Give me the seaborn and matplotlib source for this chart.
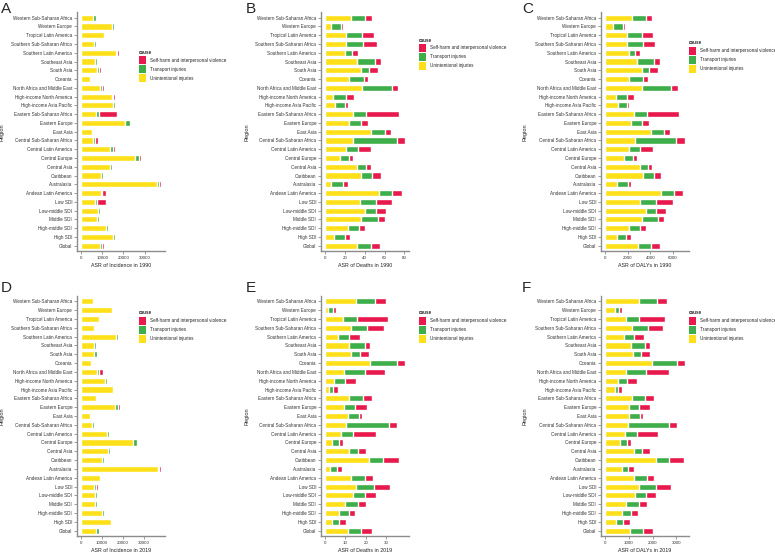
import numpy as np
import pandas as pd
import matplotlib
matplotlib.use("Agg")
import matplotlib.pyplot as plt
from matplotlib.patches import Patch
import seaborn as sns

regions = ["Western Sub-Saharan Africa", "Western Europe", "Tropical Latin America",
           "Southern Sub-Saharan Africa", "Southern Latin America", "Southeast Asia",
           "South Asia", "Oceania", "North Africa and Middle East",
           "High-income North America", "High-income Asia Pacific",
           "Eastern Sub-Saharan Africa", "Eastern Europe", "East Asia",
           "Central Sub-Saharan Africa", "Central Latin America", "Central Europe",
           "Central Asia", "Caribbean", "Australasia", "Andean Latin America",
           "Low SDI", "Low-middle SDI", "Middle SDI", "High-middle SDI", "High SDI",
           "Global"]
causes = ["Self-harm and interpersonal violence", "Transport injuries", "Unintentional injuries"]

# incidence 1990
inc90_unint = [5800, 14400, 10800, 6250, 16400, 6600, 7500, 4200, 8900, 14500, 15200, 7000, 20600, 5000,
               5600, 13750, 25300, 13750, 9400, 35800, 9400, 6700, 7800, 7650, 11700, 15000, 9100]
inc90_trans = [1100, 1100, 600, 650, 800, 900, 1100, 500, 800, 700, 600, 1300, 2400, 500,
               1000, 1450, 2000, 750, 1100, 800, 600, 950, 950, 750, 1100, 900, 750]
inc90_self = [400, 400, 500, 400, 600, 600, 600, 300, 1200, 1000, 300, 8900, 750, 300,
              1200, 1000, 800, 500, 400, 1100, 1900, 3950, 650, 350, 600, 650, 950]

# deaths 1990
dth90_unint = [26.4, 5.7, 21.0, 21.4, 20.4, 31.8, 36.5, 23.7, 36.8, 8.4, 10.0, 27.8, 23.7, 46.5,
               28.4, 20.7, 15.0, 32.4, 36.5, 6.4, 54.2, 34.8, 40.1, 36.5, 23.1, 9.0, 32.4]
dth90_trans = [14.1, 10.0, 16.0, 16.6, 7.0, 18.7, 8.3, 15.1, 30.4, 12.3, 10.4, 13.7, 12.1, 14.0,
               44.5, 12.7, 9.4, 9.1, 11.3, 11.6, 13.7, 16.4, 11.7, 17.0, 11.3, 11.0, 14.1]
dth90_self = [6.7, 2.3, 12.0, 14.0, 5.6, 5.5, 9.0, 5.0, 6.0, 8.1, 2.6, 32.7, 7.7, 6.4,
              7.7, 13.1, 3.7, 4.7, 8.7, 4.7, 9.4, 16.7, 9.7, 7.0, 6.1, 5.0, 8.7]

# DALYs 1990
daly90_unint = [2415, 730, 1950, 1920, 2100, 2850, 3290, 2125, 3290, 930, 1105, 2590, 2300, 4100,
                2620, 2100, 1660, 3115, 3350, 1020, 4950, 3115, 3580, 3260, 2155, 1020, 2940]
daly90_trans = [1165, 840, 1340, 1430, 520, 1515, 640, 1250, 2500, 990, 845, 1135, 990, 1140,
                3695, 1015, 840, 725, 955, 990, 1160, 1395, 960, 1455, 930, 870, 1135]
daly90_self = [550, 205, 930, 1070, 495, 495, 755, 410, 700, 640, 205, 2850, 580, 520,
               755, 1105, 290, 350, 670, 320, 790, 1515, 840, 525, 525, 380, 755]

# incidence 2019
inc19_unint = [5470, 14500, 8440, 6100, 16560, 6100, 6400, 4700, 7650, 11560, 15000, 6900, 16100, 4220,
               5300, 12200, 24700, 13000, 10000, 36700, 9200, 6100, 6560, 6560, 9840, 14060, 7340]
inc19_trans = [780, 800, 620, 600, 780, 800, 1100, 450, 790, 780, 470, 900, 1560, 480,
               800, 1100, 1700, 750, 800, 500, 500, 900, 1090, 940, 1060, 640, 1100]
inc19_self = [450, 300, 470, 300, 760, 300, 300, 320, 2030, 460, 470, 500, 940, 300,
              600, 600, 800, 450, 600, 800, 300, 1300, 320, 470, 500, 450, 460]

# deaths 2019
dth19_unint = [15.4, 1.6, 8.6, 12.5, 6.5, 11.9, 12.8, 22.1, 9.1, 4.2, 2.1, 12.0, 9.3, 11.4,
               10.4, 7.8, 3.6, 11.9, 21.8, 2.3, 12.7, 15.3, 13.5, 9.6, 6.8, 3.3, 11.4]
dth19_trans = [9.2, 2.3, 7.2, 8.2, 5.4, 7.6, 4.3, 13.0, 10.6, 5.4, 1.8, 6.4, 5.5, 5.5,
               21.0, 6.0, 3.4, 4.5, 6.5, 3.4, 7.0, 8.9, 6.2, 6.8, 4.9, 3.7, 6.3]
dth19_self = [5.3, 1.5, 15.1, 8.2, 5.2, 2.5, 4.5, 4.1, 9.9, 5.4, 2.3, 4.5, 6.0, 1.3,
              4.0, 11.4, 1.9, 3.9, 8.1, 2.8, 3.9, 7.5, 5.3, 3.6, 3.1, 3.1, 5.1]

# DALYs 2019
daly19_unint = [1410, 400, 870, 1150, 815, 1090, 1160, 1980, 870, 525, 415, 1135, 995, 1025,
                970, 860, 650, 1200, 2145, 720, 1215, 1410, 1245, 900, 720, 455, 1065]
daly19_trans = [775, 195, 555, 650, 415, 600, 360, 1035, 870, 415, 150, 540, 445, 425,
                1700, 495, 290, 360, 540, 260, 555, 735, 495, 540, 385, 320, 540]
daly19_self = [430, 110, 1105, 650, 400, 205, 360, 345, 930, 415, 155, 370, 455, 125,
               370, 860, 150, 320, 635, 220, 305, 635, 420, 330, 265, 260, 415]

colors = {"Self-harm and interpersonal violence": "#E8194C",
          "Transport injuries": "#3DAE4A",
          "Unintentional injuries": "#FDE01A"}

sns.set_style("ticks")
plt.rcParams['font.family'] = ['Liberation Sans', 'DejaVu Sans']
plt.rcParams['axes.edgecolor'] = '#8c8c8c'
plt.rcParams['xtick.color'] = '#8c8c8c'
plt.rcParams['ytick.color'] = '#8c8c8c'

W, H = 775, 553
fig = plt.figure(figsize=(W / 100, H / 100), dpi=100)


def draw_panel(box, unint, trans, selfharm, xlabel, step, letter, letter_xy, region_x, legend_xy):
    left, right, top, bottom = box
    ax = fig.add_axes([left / W, 1 - bottom / H, (right - left) / W, (bottom - top) / H])
    df = pd.DataFrame({"Region": regions, "unint": unint, "trans": trans, "self": selfharm})
    df["green_end"] = df.unint + df.trans
    df["total"] = df.green_end + df.self
    # stacked look: draw totals first, then overlay shorter stacks
    sns.barplot(data=df, x="total", y="Region", order=regions, orient="h", width=0.7,
                color=colors[causes[0]], saturation=1, errorbar=None, ax=ax)
    sns.barplot(data=df, x="green_end", y="Region", order=regions, orient="h", width=0.7,
                color=colors[causes[1]], saturation=1, errorbar=None, ax=ax)
    sns.barplot(data=df, x="unint", y="Region", order=regions, orient="h", width=0.7,
                color=colors[causes[2]], saturation=1, errorbar=None, ax=ax)
    mx = df.total.max()
    ax.set_xlim(-0.05 * mx, 1.05 * mx)
    ax.set_ylim(len(regions) - 0.4, -0.6)
    ax.set_xticks(np.arange(0, mx, step))
    ax.tick_params(axis='x', labelsize=3.2, length=2, width=0.6, pad=1.5, labelcolor='#333333')
    ax.tick_params(axis='y', labelsize=3.35, length=2, width=0.6, pad=1.5, labelcolor='#333333')
    ax.set_xlabel(xlabel, fontsize=3.8, color='#222222', labelpad=2.2)
    ax.set_ylabel("Region", fontsize=4.0, color='#222222')
    ax.yaxis.set_label_coords(region_x / W, 1 - (top + bottom) / 2 / H, transform=fig.transFigure)
    for s in ["left", "bottom"]:
        ax.spines[s].set_linewidth(1.0)
    sns.despine(ax=ax)
    fig.text(letter_xy[0] / W, 1 - letter_xy[1] / H, letter, fontsize=11, va="top", ha="left")
    handles = [Patch(facecolor=colors[c], edgecolor='none') for c in causes]
    ax.legend(handles, causes, title="cause", loc="upper left",
              bbox_to_anchor=(legend_xy[0] / W, 1 - legend_xy[1] / H),
              bbox_transform=fig.transFigure, frameon=False, fontsize=3.3,
              title_fontproperties={"weight": "bold", "size": 3.3},
              alignment="left", handlelength=1.55, handleheight=2.3,
              labelspacing=0.25, handletextpad=0.95, borderpad=0, borderaxespad=0)
    return ax


top1, bot1 = 12.4, 251
top2, bot2 = 296, 536
draw_panel((77, 165, top1, bot1), inc90_unint, inc90_trans, inc90_self,
           "ASR of Incidence in 1990", 10000, "A", (1, 2), 5, (138.5, 50))
draw_panel((321, 409, top1, bot1), dth90_unint, dth90_trans, dth90_self,
           "ASR of Deaths in 1990", 20, "B", (246, 2), 249, (418.5, 37.5))
draw_panel((601, 689, top1, bot1), daly90_unint, daly90_trans, daly90_self,
           "ASR of DALYs in 1990", 2000, "C", (522, 2), 528, (688.5, 40.5))
draw_panel((77, 165, top2, bot2), inc19_unint, inc19_trans, inc19_self,
           "ASR of Incidence in 2019", 10000, "D", (1, 281), 5, (138.5, 310.5))
draw_panel((321, 409, top2, bot2), dth19_unint, dth19_trans, dth19_self,
           "ASR of Deaths in 2019", 10, "E", (246, 281), 249, (418.5, 310.5))
draw_panel((601, 689, top2, bot2), daly19_unint, daly19_trans, daly19_self,
           "ASR of DALYs in 2019", 1000, "F", (522, 281), 528, (688.5, 310.5))

fig.savefig("out.png", dpi=100)
